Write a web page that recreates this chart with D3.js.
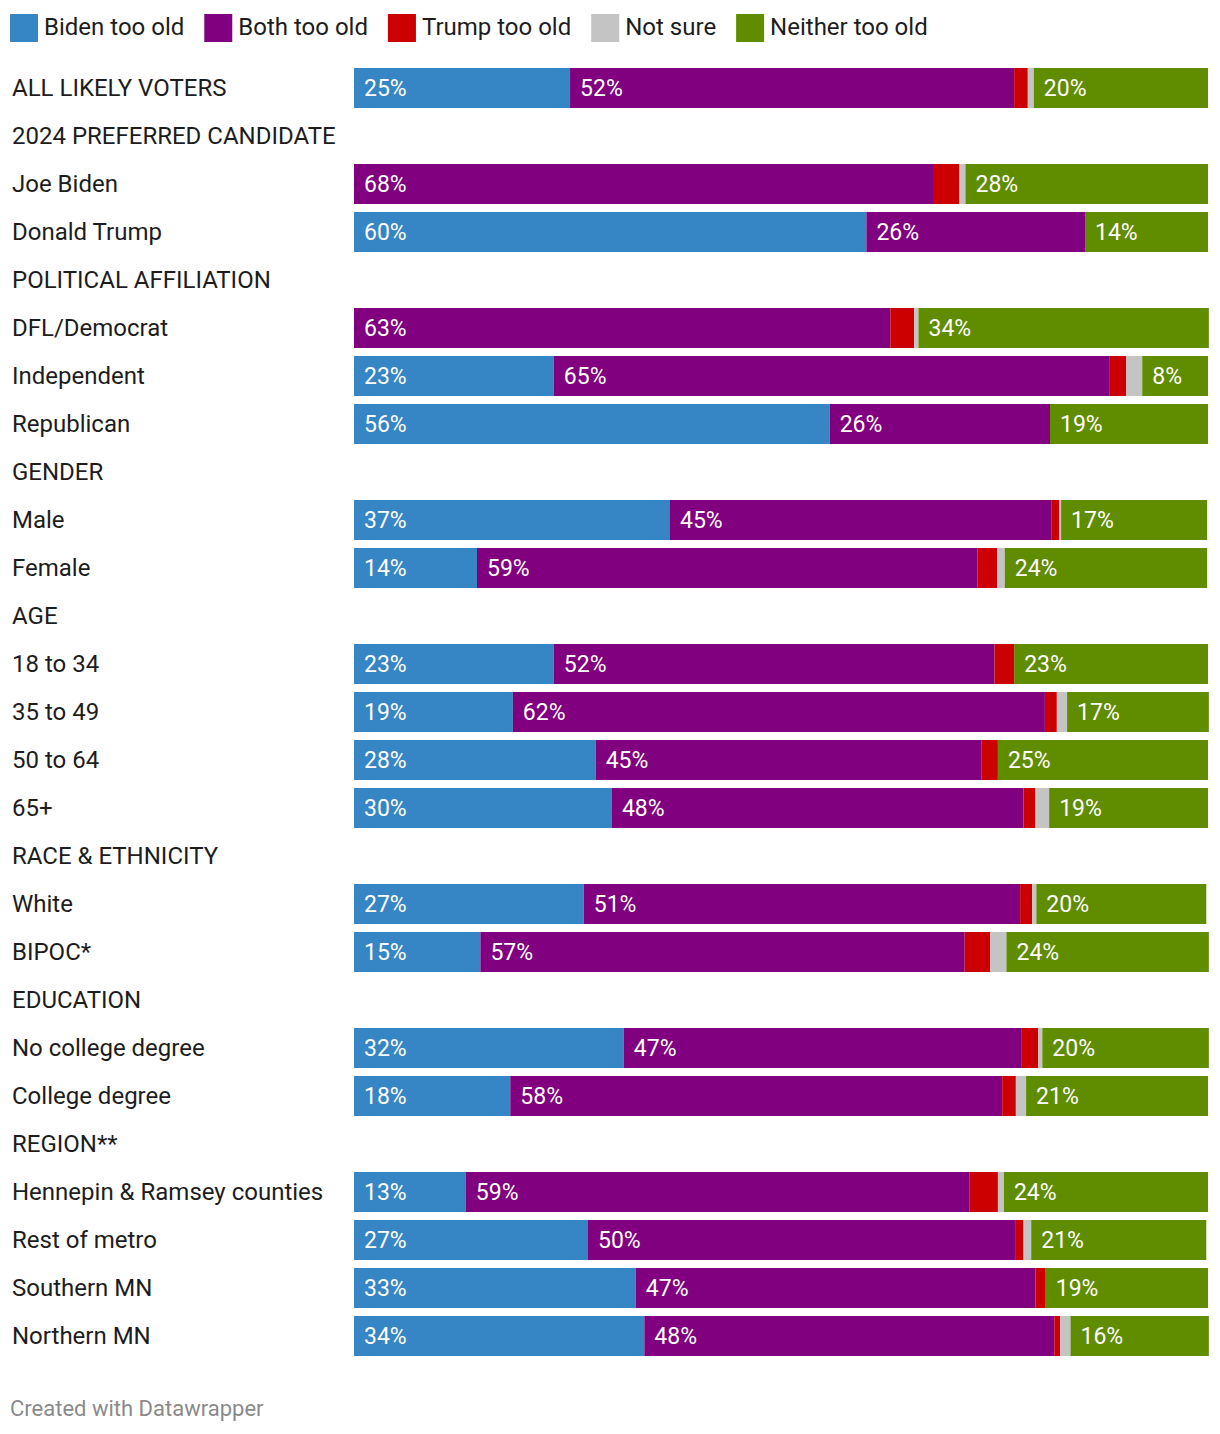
<!DOCTYPE html>
<html>
<head>
<meta charset="utf-8">
<script src="https://cdn.jsdelivr.net/npm/d3@7"></script>
<style>
  body { margin: 0; background: #fff; }
  svg { display: block; font-family: Roboto, "Noto Sans", sans-serif; }
</style>
</head>
<body>
<svg id="chart" width="1220" height="1434"></svg>
<script>
const seriesNames = ["Biden too old", "Both too old", "Trump too old", "Not sure", "Neither too old"];
const seriesColors = ["#3685c4", "#800080", "#cc0000", "#c4c4c4", "#608c00"];

// row labels; header rows have null values
const categories = [
  "ALL LIKELY VOTERS", "2024 PREFERRED CANDIDATE", "Joe Biden", "Donald Trump",
  "POLITICAL AFFILIATION", "DFL/Democrat", "Independent", "Republican",
  "GENDER", "Male", "Female",
  "AGE", "18 to 34", "35 to 49", "50 to 64", "65+",
  "RACE & ETHNICITY", "White", "BIPOC*",
  "EDUCATION", "No college degree", "College degree",
  "REGION**", "Hennepin & Ramsey counties", "Rest of metro", "Southern MN", "Northern MN"
];
const bidenTooOld  = [25.3, null, 0,    60.0, null, 0,    23.4, 55.7, null, 37.0, 14.4, null, 23.4, 18.6, 28.3, 30.2, null, 26.9, 14.8, null, 31.6, 18.3, null, 13.1, 27.4, 33.0, 34.0];
const bothTooOld   = [52.0, null, 67.8, 25.6, null, 62.8, 65.1, 25.8, null, 44.7, 58.6, null, 51.6, 62.3, 45.2, 48.2, null, 51.1, 56.7, null, 46.6, 57.6, null, 59.0, 50.1, 46.8, 48.0];
const trumpTooOld  = [1.6,  null, 3.1,  0,    null, 2.8,  1.9,  0,    null, 0.9,  2.3,  null, 2.3,  1.4,  1.9,  1.4,  null, 1.4,  3.0,  null, 1.9,  1.6,  null, 3.3,  0.9,  1.2,  0.7];
const notSure      = [0.7,  null, 0.7,  0,    null, 0.5,  1.9,  0,    null, 0.2,  0.9,  null, 0,    1.2,  0,    1.6,  null, 0.5,  1.9,  null, 0.5,  1.2,  null, 0.7,  0.9,  0,    1.2];
const neitherTooOld= [20.4, null, 28.4, 14.4, null, 34.0, 7.7,  18.5, null, 17.1, 23.7, null, 22.7, 16.6, 24.6, 18.6, null, 19.9, 23.7, null, 19.5, 21.3, null, 23.9, 20.5, 19.0, 16.2];
const seriesValues = [bidenTooOld, bothTooOld, trumpTooOld, notSure, neitherTooOld];
const labelledSeries = [0, 1, 4];
const footerText = "Created with Datawrapper";

const svg = d3.select("#chart");

// Legend
const legend = svg.append("g");
let lx = 10;
seriesNames.forEach((name, i) => {
  legend.append("rect").attr("x", lx).attr("y", 14).attr("width", 28).attr("height", 28).attr("fill", seriesColors[i]);
  const t = legend.append("text").attr("x", lx + 34).attr("y", 35)
    .attr("font-size", 24).attr("fill", "#1d1d1d").text(name);
  lx += 34 + t.node().getComputedTextLength() + 20;
});

// Scales
const x = d3.scaleLinear().domain([0, 100]).range([354, 1208]);
const y = d3.scaleBand().domain(categories).range([64, 1360]).paddingInner(1/6).paddingOuter(1/12);

// Row labels
svg.append("g").selectAll("text").data(categories).join("text")
  .attr("x", 12)
  .attr("y", d => y(d) + y.bandwidth() / 2 + 8)
  .attr("font-size", 24)
  .attr("fill", "#1d1d1d")
  .text(d => d);

// Stacked data
const rows = categories.map((c, i) => {
  if (bidenTooOld[i] === null) return null;
  let acc = 0;
  return seriesValues.map((arr, s) => {
    const v = arr[i];
    const seg = { cat: c, s, v, x0: acc, x1: acc + v };
    acc += v;
    return seg;
  });
}).filter(r => r);
const segs = rows.flat().filter(d => d.v > 0);

const bars = svg.append("g");
bars.selectAll("rect").data(segs).join("rect")
  .attr("x", d => x(d.x0))
  .attr("y", d => y(d.cat))
  .attr("width", d => x(d.x1) - x(d.x0))
  .attr("height", y.bandwidth())
  .attr("fill", d => seriesColors[d.s]);

bars.selectAll("text").data(segs.filter(d => labelledSeries.includes(d.s))).join("text")
  .attr("x", d => x(d.x0) + 10)
  .attr("y", d => y(d.cat) + y.bandwidth() / 2 + 8)
  .attr("font-size", 23)
  .attr("fill", "#fff")
  .text(d => Math.round(d.v) + "%");

// Footer
svg.append("text").attr("x", 10).attr("y", 1416).attr("font-size", 22).attr("fill", "#8a8a8a").text(footerText);
</script>
</body>
</html>
